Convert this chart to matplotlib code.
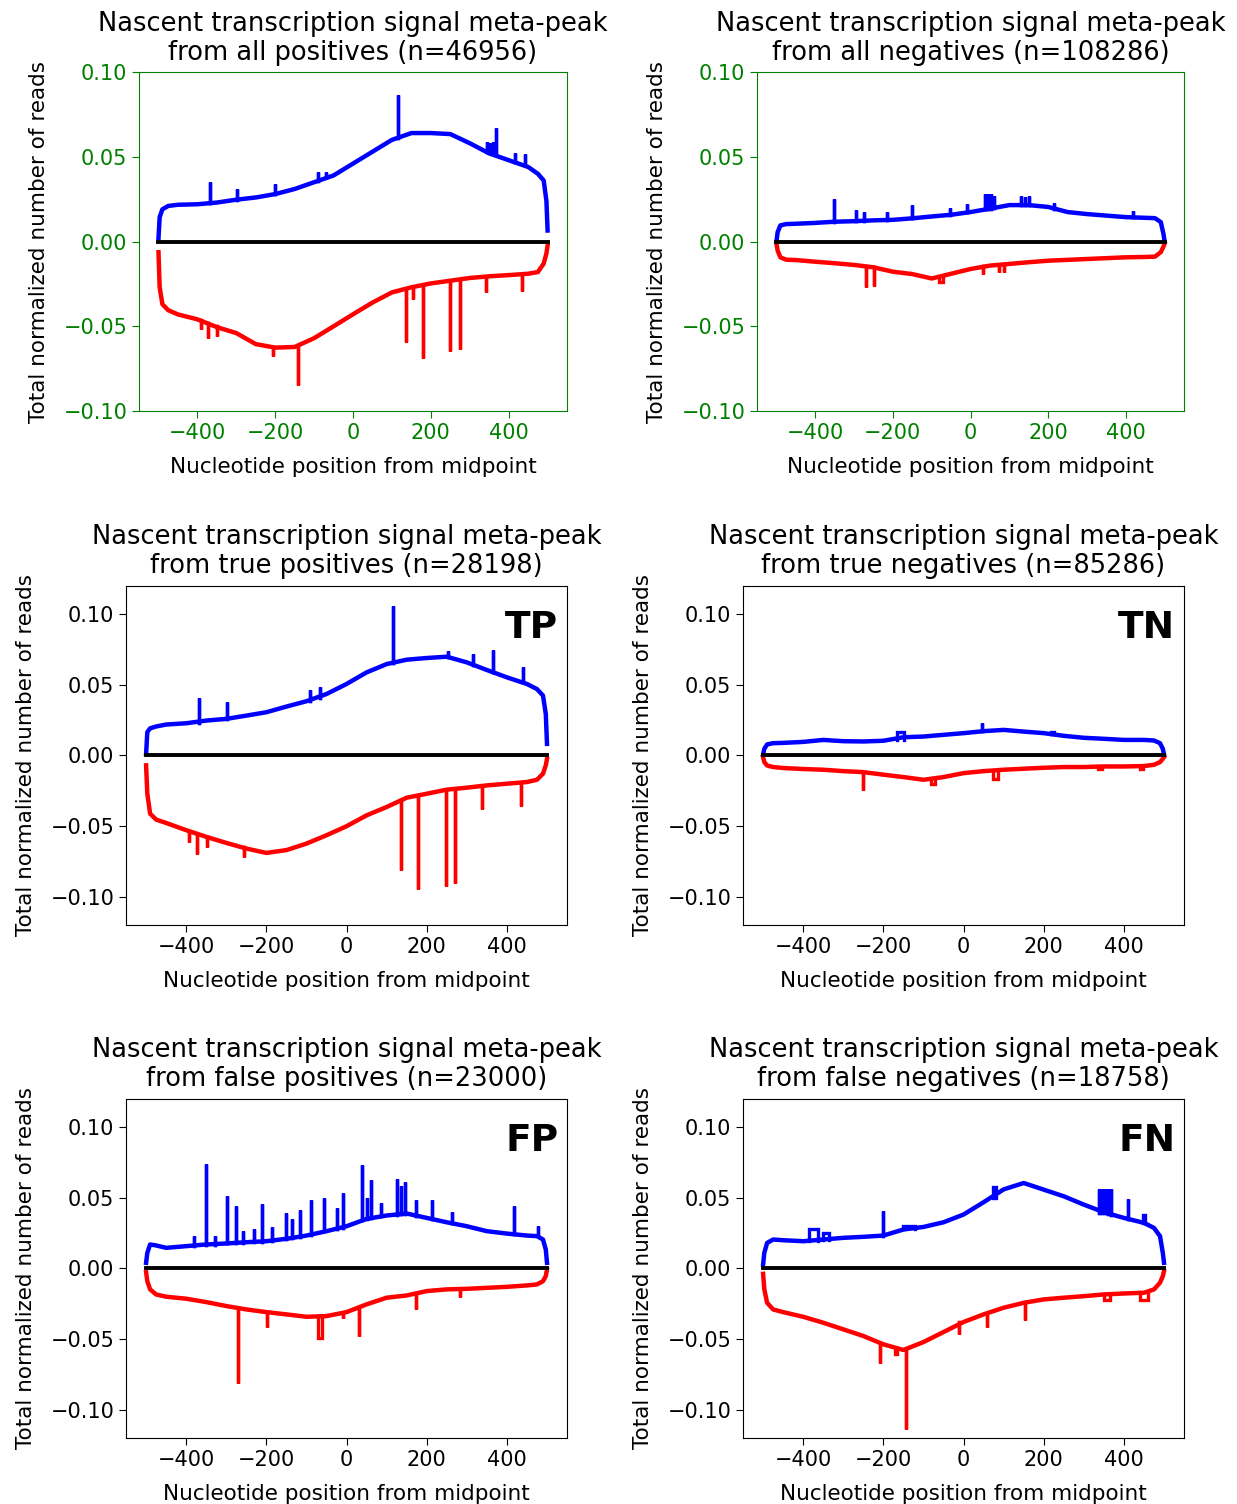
import numpy as np
import matplotlib
matplotlib.use("Agg")
import matplotlib.pyplot as plt

# positions (nt from peak midpoint) where the meta-peak profiles were sampled
pos = [-500, -497, -490, -475, -450, -400, -350, -300, -250, -200, -150, -100, -50,
       0, 50, 100, 150, 200, 250, 300, 350, 400, 450, 475, 490, 497, 500]

# all positives
allpos_plus = [0.002, 0.0144, 0.019, 0.021, 0.0217, 0.022, 0.023, 0.0247, 0.026, 0.028, 0.031,
               0.035, 0.039, 0.046, 0.053, 0.060, 0.064, 0.064, 0.0634, 0.058, 0.052, 0.048,
               0.044, 0.040, 0.036, 0.024, 0.0065]
allpos_minus = [-0.0063, -0.027, -0.037, -0.0405, -0.043, -0.0459, -0.0505, -0.054, -0.0605,
                -0.0626, -0.0622, -0.057, -0.050, -0.0429, -0.036, -0.030, -0.027, -0.0247,
                -0.0231, -0.0215, -0.0205, -0.0198, -0.019, -0.018, -0.013, -0.007, -0.0024]
# spikes: (start, end, base, tip)
allpos_plus_spk = [(-368, -368, 0.023, 0.035), (-297, -297, 0.0245, 0.031), (-200, -200, 0.028, 0.034),
                   (-90, -90, 0.036, 0.041), (-70, -70, 0.038, 0.041), (115, 115, 0.061, 0.0866),
                   (345, 345, 0.053, 0.059), (352, 352, 0.052, 0.058), (360, 360, 0.052, 0.059),
                   (368, 368, 0.051, 0.0668), (417, 417, 0.047, 0.052), (441, 441, 0.045, 0.0515)]
allpos_minus_spk = [(-392, -392, -0.046, -0.0518), (-372, -372, -0.048, -0.057), (-349, -349, -0.050, -0.0557),
                    (-205, -205, -0.062, -0.0676), (-141, -141, -0.062, -0.0844), (136, 136, -0.029, -0.0593),
                    (155, 155, -0.027, -0.034), (179, 179, -0.026, -0.0686), (250, 250, -0.0231, -0.0646),
                    (274, 274, -0.0225, -0.0636), (341, 341, -0.0207, -0.030), (435, 435, -0.0195, -0.029)]

# all negatives
allneg_plus = [0.0, 0.0055, 0.0095, 0.0103, 0.0105, 0.011, 0.0117, 0.012, 0.0125, 0.0128, 0.0137,
               0.0148, 0.0158, 0.0174, 0.0194, 0.0215, 0.0215, 0.0204, 0.0174, 0.0162, 0.0153,
               0.0144, 0.0140, 0.0138, 0.0115, 0.0045, 0.0]
allneg_minus = [-0.001, -0.0053, -0.0093, -0.0107, -0.0109, -0.0119, -0.0128, -0.0138, -0.0152,
                -0.0178, -0.0192, -0.0218, -0.019, -0.0162, -0.0142, -0.0132, -0.0122, -0.0113,
                -0.0108, -0.0103, -0.0098, -0.0093, -0.0091, -0.0089, -0.0063, -0.003, -0.001]
allneg_plus_spk = [(-351, -351, 0.0115, 0.0253), (-296, -296, 0.012, 0.0184), (-275, -275, 0.012, 0.0174),
                   (-214, -214, 0.0127, 0.0174), (-150, -150, 0.0137, 0.0213), (-53, -53, 0.0157, 0.020),
                   (-9, -9, 0.0172, 0.0223), (38, 38, 0.019, 0.0283), (45, 45, 0.019, 0.028),
                   (52, 52, 0.019, 0.0283), (60, 60, 0.020, 0.0267), (129, 129, 0.0215, 0.0267),
                   (140, 140, 0.0215, 0.026), (150, 150, 0.0215, 0.0267), (215, 215, 0.019, 0.0227),
                   (419, 419, 0.0143, 0.0178)]
allneg_minus_spk = [(-269, -269, -0.0148, -0.027), (-249, -249, -0.0152, -0.026), (-82, -70, -0.0215, -0.024),
                    (32, 32, -0.0145, -0.019), (73, 73, -0.0137, -0.018), (86, 86, -0.0135, -0.018)]

# true positives
tp_plus = [0.001, 0.0165, 0.0192, 0.0205, 0.0219, 0.0228, 0.0247, 0.0259, 0.0282, 0.0306, 0.0346,
           0.0384, 0.0435, 0.0506, 0.0588, 0.0647, 0.0678, 0.069, 0.0699, 0.0659, 0.0605, 0.0553,
           0.0506, 0.047, 0.0424, 0.0294, 0.0082]
tp_minus = [-0.007, -0.027, -0.0412, -0.0454, -0.0478, -0.0529, -0.0576, -0.0619, -0.0659, -0.069,
            -0.067, -0.0624, -0.0565, -0.0501, -0.0424, -0.0365, -0.0299, -0.0271, -0.0242,
            -0.0228, -0.0212, -0.020, -0.0188, -0.0172, -0.0129, -0.007, -0.0024]
tp_plus_spk = [(-369, -369, 0.0232, 0.0407), (-297, -297, 0.0259, 0.0376), (-90, -90, 0.0385, 0.0464),
               (-66, -66, 0.041, 0.0482), (115, 115, 0.0655, 0.1059), (253, 253, 0.0699, 0.0736),
               (316, 316, 0.064, 0.0718), (365, 365, 0.059, 0.0746), (439, 439, 0.052, 0.0628)]
tp_minus_spk = [(-392, -392, -0.054, -0.0612), (-374, -374, -0.0555, -0.070), (-349, -349, -0.0576, -0.0647),
                (-257, -257, -0.065, -0.0718), (135, 135, -0.033, -0.0812), (179, 179, -0.0285, -0.0948),
                (249, 249, -0.0242, -0.0925), (271, 271, -0.0238, -0.0906), (339, 339, -0.0215, -0.0376),
                (434, 434, -0.0195, -0.036)]

# true negatives
tn_plus = [0.0007, 0.0047, 0.0078, 0.0087, 0.0089, 0.0096, 0.011, 0.0101, 0.0099, 0.0104, 0.0129,
           0.0134, 0.0146, 0.0158, 0.0172, 0.0181, 0.0169, 0.0158, 0.0139, 0.0125, 0.0118, 0.011,
           0.011, 0.0106, 0.0087, 0.0047, 0.0007]
tn_minus = [-0.0012, -0.0047, -0.0071, -0.0082, -0.0089, -0.0096, -0.0101, -0.0111, -0.0118, -0.0136,
            -0.0153, -0.0172, -0.0153, -0.0125, -0.0111, -0.0101, -0.0094, -0.0087, -0.0082, -0.0082,
            -0.0078, -0.0078, -0.0075, -0.0066, -0.0047, -0.0024, -0.0012]
tn_plus_spk = [(-167, -148, 0.0106, 0.0169), (46, 46, 0.017, 0.0228), (219, 225, 0.0152, 0.0165)]
tn_minus_spk = [(-250, -250, -0.0118, -0.0247), (-82, -70, -0.0165, -0.0205), (74, 86, -0.0108, -0.0165),
                (335, 345, -0.0078, -0.0095), (440, 447, -0.0075, -0.0095)]

# false positives
fp_plus = [0.004, 0.011, 0.017, 0.0163, 0.0146, 0.0158, 0.017, 0.0177, 0.0186, 0.0193, 0.021,
           0.0233, 0.0264, 0.0299, 0.0351, 0.0375, 0.0389, 0.0358, 0.0327, 0.0299, 0.0264, 0.0247,
           0.0233, 0.0229, 0.0205, 0.0134, 0.004]
fp_minus = [-0.0026, -0.009, -0.0148, -0.0184, -0.020, -0.0214, -0.0238, -0.0266, -0.029, -0.0309,
            -0.0325, -0.0342, -0.0337, -0.0309, -0.0254, -0.0207, -0.0191, -0.016, -0.0148, -0.0144,
            -0.0137, -0.013, -0.012, -0.0113, -0.009, -0.0054, -0.0007]
fp_plus_spk = [(-380, -380, 0.016, 0.0233), (-351, -351, 0.0165, 0.0742), (-328, -328, 0.0168, 0.0229),
               (-297, -297, 0.0177, 0.0516), (-276, -276, 0.018, 0.044), (-258, -258, 0.0183, 0.0264),
               (-231, -231, 0.0188, 0.0276), (-212, -212, 0.019, 0.0459), (-187, -187, 0.0195, 0.0294),
               (-150, -150, 0.021, 0.0393), (-137, -137, 0.0215, 0.0351), (-116, -116, 0.0225, 0.0417),
               (-89, -89, 0.024, 0.0488), (-56, -56, 0.0262, 0.050), (-25, -25, 0.028, 0.0429),
               (-10, -10, 0.029, 0.0535), (39, 39, 0.034, 0.0735), (50, 50, 0.0351, 0.050),
               (60, 60, 0.0355, 0.0624), (87, 87, 0.037, 0.0464), (125, 125, 0.038, 0.0634),
               (137, 137, 0.0385, 0.0582), (147, 147, 0.0388, 0.061), (174, 174, 0.037, 0.0488),
               (214, 214, 0.035, 0.0483), (262, 262, 0.032, 0.0398), (418, 418, 0.0245, 0.0445),
               (478, 478, 0.0229, 0.0299)]
fp_minus_spk = [(-270, -270, -0.028, -0.0808), (-199, -199, -0.0309, -0.0412), (-70, -62, -0.034, -0.049),
                (-10, -10, -0.032, -0.0349), (30, 30, -0.027, -0.0478), (174, 174, -0.0185, -0.0285),
                (284, 284, -0.0145, -0.020)]

# false negatives
fn_plus = [0.0028, 0.0111, 0.0181, 0.0205, 0.020, 0.0193, 0.0205, 0.0217, 0.0224, 0.0233, 0.0276,
           0.0294, 0.0327, 0.0382, 0.0469, 0.0560, 0.0605, 0.0558, 0.0511, 0.0452, 0.0398, 0.0358,
           0.0323, 0.0287, 0.0229, 0.0111, 0.004]
fn_minus = [-0.0038, -0.0148, -0.0243, -0.029, -0.0309, -0.0342, -0.0384, -0.0431, -0.0478, -0.0537,
            -0.0577, -0.0521, -0.045, -0.0379, -0.0325, -0.0278, -0.0243, -0.0219, -0.0207, -0.0196,
            -0.0184, -0.0177, -0.0172, -0.0148, -0.0101, -0.0054, -0.0019]
fn_plus_spk = [(-386, -364, 0.0196, 0.0276), (-350, -336, 0.0205, 0.025), (-200, -200, 0.0233, 0.0405),
               (-150, -120, 0.0276, 0.030), (74, 82, 0.050, 0.058), (339, 339, 0.0395, 0.0563),
               (346, 346, 0.039, 0.056), (353, 353, 0.039, 0.0563), (360, 360, 0.0385, 0.056),
               (368, 368, 0.038, 0.0563), (411, 411, 0.035, 0.0492), (447, 452, 0.0323, 0.038)]
fn_minus_spk = [(-208, -208, -0.053, -0.0667), (-170, -165, -0.056, -0.0605), (-143, -143, -0.0577, -0.1138),
                (-11, -11, -0.038, -0.0466), (59, 59, -0.032, -0.0412), (154, 154, -0.0243, -0.0365),
                (350, 365, -0.0184, -0.022), (440, 460, -0.017, -0.0225)]

titles = ["Nascent transcription signal meta-peak\nfrom all positives (n=46956)",
          "Nascent transcription signal meta-peak\nfrom all negatives (n=108286)",
          "Nascent transcription signal meta-peak\nfrom true positives (n=28198)",
          "Nascent transcription signal meta-peak\nfrom true negatives (n=85286)",
          "Nascent transcription signal meta-peak\nfrom false positives (n=23000)",
          "Nascent transcription signal meta-peak\nfrom false negatives (n=18758)"]
tags = [None, None, "TP", "TN", "FP", "FN"]
plus_curves = [allpos_plus, allneg_plus, tp_plus, tn_plus, fp_plus, fn_plus]
minus_curves = [allpos_minus, allneg_minus, tp_minus, tn_minus, fp_minus, fn_minus]
plus_spikes = [allpos_plus_spk, allneg_plus_spk, tp_plus_spk, tn_plus_spk, fp_plus_spk, fn_plus_spk]
minus_spikes = [allpos_minus_spk, allneg_minus_spk, tp_minus_spk, tn_minus_spk, fp_minus_spk, fn_minus_spk]

fig = plt.figure(figsize=(12.37, 15.04), dpi=100)
boxes = [[0.1124, 0.7267, 0.3460, 0.2254], [0.6120, 0.7267, 0.3452, 0.2254],
         [0.1019, 0.3850, 0.3565, 0.2254], [0.6007, 0.3850, 0.3565, 0.2254],
         [0.1019, 0.0439, 0.3565, 0.2254], [0.6007, 0.0439, 0.3565, 0.2254]]


def draw_spikes(ax, spikes, color):
    for x0, x1, base, tip in spikes:
        ax.plot([x0, x0, x1, x1], [base, tip, tip, base], color=color, lw=2.4,
                solid_joinstyle="miter")


for i in range(6):
    ax = fig.add_axes(boxes[i])
    ax.plot(pos, plus_curves[i], color="blue", lw=3.2)
    ax.plot(pos, minus_curves[i], color="red", lw=3.2)
    draw_spikes(ax, plus_spikes[i], "blue")
    draw_spikes(ax, minus_spikes[i], "red")
    ax.plot([-500, 500], [0, 0], color="black", lw=2.8)
    ax.set_xlim(-550, 550)
    ax.set_xticks([-400, -200, 0, 200, 400])
    ax.set_yticks([-0.1, -0.05, 0, 0.05, 0.1])
    if i < 2:
        ax.set_ylim(-0.1, 0.1)
        for s in ax.spines.values():
            s.set_color("green")
        ax.tick_params(colors="green")
    else:
        ax.set_ylim(-0.12, 0.12)
    ax.tick_params(labelsize=15, length=5)
    ax.set_title(titles[i], fontsize=18.5, pad=9, linespacing=1.15)
    ax.set_xlabel("Nucleotide position from midpoint", fontsize=15.5, labelpad=10)
    ax.set_ylabel("Total normalized number of reads", fontsize=15.5, labelpad=10)
    if tags[i]:
        ax.text(0.98, 0.875, tags[i], transform=ax.transAxes, ha="right", va="center",
                fontsize=27, fontweight="bold")

fig.savefig("out.png", dpi=100)
